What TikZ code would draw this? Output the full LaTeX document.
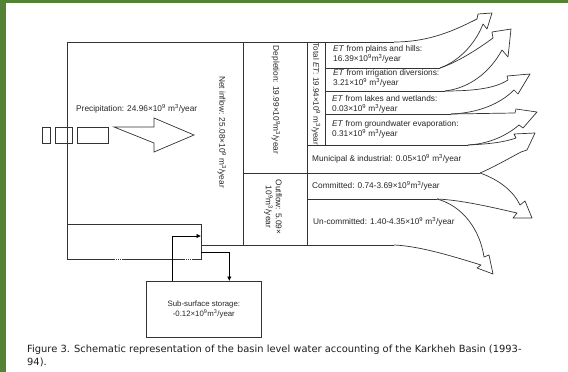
\documentclass[tikz,border=0pt]{standalone}
\usepackage{fontspec}
\setmainfont{Liberation Sans}
\newfontfamily\capfont{DejaVu Sans}
\usetikzlibrary{arrows.meta}

% units used in the flow labels
\newcommand\tnine{10\textsuperscript{9}}
\newcommand\mcy{m\textsuperscript{3}/year}

\definecolor{frame}{HTML}{548235}

\begin{document}
\begin{tikzpicture}[x=1pt,y=-1pt,
  line/.style={draw=black!80, line width=0.7pt},
  lbl/.style={font=\fontsize{8.3}{10}\selectfont, inner sep=0pt, text=black!85},
  rowlbl/.style={lbl, anchor=west, align=left},
  vlbl/.style={lbl, rotate=-90, align=center},
  flow/.style={draw=black!80, line width=0.7pt, line join=round},
  feed/.style={draw=black, line width=0.7pt, -{Latex[length=4.5pt,width=4.5pt]}},
  gap/.style={draw=white, line width=0.9pt, dash pattern=on 0.8pt off 1.2pt},
]
\useasboundingbox (0,0) rectangle (568,372);
\fill[white] (0,0) rectangle (568,372);
\fill[frame] (0,0) rectangle (6,372);
\fill[frame] (0,0) rectangle (568,3);

% basin frame and compartments
\draw[line] (394,42) -- (67,42) -- (67,259) -- (201,259) -- (201,224) -- (67,224);
\draw[line] (243,42) -- (243,245);
\draw[line] (201,245) -- (394,245);
\draw[line] (307,42) -- (307,245);
\draw[line] (325,42) -- (325,145);
\draw[line] (325,68) -- (440,68);
\draw[line] (325,91) -- (445,91);
\draw[line] (325,114) -- (451,114);
\draw[line] (307,145) -- (468,145);
\draw[line] (243,173) -- (480,173);
\draw[line] (307,199) -- (437,199);
\draw[gap] (115,259) -- (123,259);
\draw[gap] (185,259) -- (193,259);
\draw[gap] (221,252) -- (229,252);

% precipitation input arrow
\draw[line] (42,127) rectangle (50,143);
\draw[line] (55,127) rectangle (72,143);
\draw[line] (77,127) rectangle (108,143);
\draw[line] (114,127) -- (154,127) -- (154,118) -- (194,135) -- (154,152) -- (154,143) -- cycle;
\node[lbl, anchor=west] (prec) at (76,109) {Precipitation: 24.96×\tnine\ \mcy};

% outflow arrows
\draw[flow] (394,42) .. controls (430,42) and (455,30) .. (477,19) -- (478,14) -- (492,13) -- (487,29) -- (483,24)
  .. controls (477,40) and (462,60) .. (440,68);
\draw[flow] (440,68) .. controls (458,62) and (478,49) .. (493,38) -- (492,32) -- (511,29) -- (508,57) -- (502,50)
  .. controls (490,72) and (470,88) .. (445,91);
\draw[flow] (445,91) .. controls (480,91) and (497,87) .. (508,80) -- (507,76) -- (530,74) -- (518,94) -- (514,90)
  .. controls (500,104) and (478,113) .. (451,114);
\draw[flow] (451,114) -- (515,113) -- (516,109) -- (537,112) -- (523,128) -- (519,125)
  .. controls (505,137) and (487,144) .. (468,145);
\draw[flow] (468,145) .. controls (490,144) and (505,142) .. (516,138) -- (514,134) -- (535,133) -- (527,150) -- (521,152)
  .. controls (506,160) and (492,168) .. (480,173);
\draw[flow] (480,173) .. controls (500,180) and (514,192) .. (520,205) -- (525,201) -- (532,218) -- (513,218) -- (517,213)
  .. controls (495,208) and (462,200) .. (437,199);
\draw[flow] (437,199) .. controls (463,206) and (480,230) .. (484,257) -- (489,255) -- (493,274) -- (477,268) -- (481,265)
  .. controls (455,257) and (420,246) .. (394,245);

% compartment labels
\node[vlbl] (inflow) at (222,132) {Net inflow: 25.08×\tnine\ \mcy};
\node[vlbl] (depl) at (276,100) {Depletion: 19.99×\tnine\mcy};
\node[vlbl] (outfl) at (273,207) {Outflow: 5.09×\\\tnine\mcy};
\node[vlbl, font=\fontsize{8}{10}\selectfont] (totet) at (316,94) {Total \textit{ET}: 19.94×\tnine\ \mcy};

\node[rowlbl] (et1) at (333,54) {\textit{ET} from plains and hills:\\16.39×\tnine\mcy};
\node[rowlbl] (et2) at (333,78) {\textit{ET} from irrigation diversions:\\3.21×\tnine\ \mcy};
\node[rowlbl] (et3) at (332,104) {\textit{ET} from lakes and wetlands:\\0.03×\tnine\ \mcy};
\node[rowlbl] (et4) at (332,129) {\textit{ET} from groundwater evaporation:\\0.31×\tnine\ \mcy};
\node[rowlbl] (mun) at (312,159) {Municipal \& industrial: 0.05×\tnine\ \mcy};
\node[rowlbl] (com) at (312,186) {Committed: 0.74-3.69×\tnine\mcy};
\node[rowlbl] (unc) at (313,222) {Un-committed: 1.40-4.35×\tnine\ \mcy};

% sub-surface storage and its exchange
\node[draw=black!80, line width=0.7pt, minimum width=115pt, minimum height=56pt, inner sep=0pt,
      anchor=north west, align=center, font=\fontsize{7.8}{10.5}\selectfont, text=black!85]
      (store) at (146,281) {Sub-surface storage:\\-0.12×\tnine\mcy};
\coordinate (ret) at (201,236);
\coordinate (tap) at (201,252);
\draw[feed] ([xshift=-31.5pt]store.north) |- (ret);
\draw[feed] (tap) -| ([xshift=25.5pt]store.north);

% caption
\node[anchor=base west, inner sep=0pt, font=\capfont\fontsize{9.9}{12}\selectfont, text=black!88] (cap1) at (27,352)
  {Figure 3. Schematic representation of the basin level water accounting of the Karkheh Basin (1993-};
\node[anchor=base west, inner sep=0pt, font=\capfont\fontsize{9.9}{12}\selectfont, text=black!88] (cap2) at (27,365) {94).};
\end{tikzpicture}
\end{document}
